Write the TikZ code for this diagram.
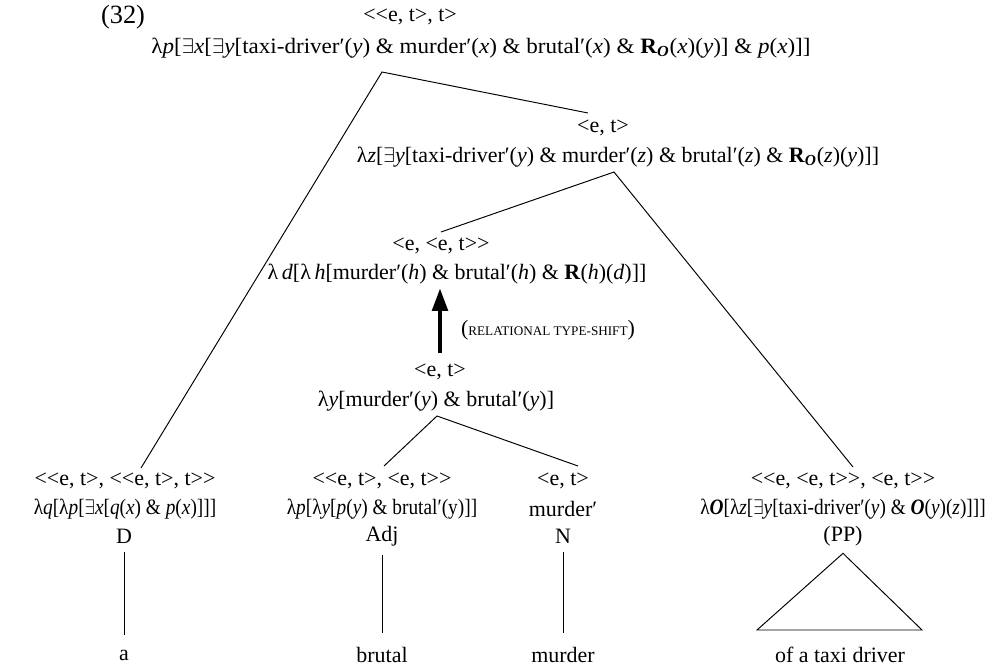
\documentclass[tikz,border=0pt]{standalone}
\usepackage{fontspec}
\usepackage{graphicx}
\setmainfont{Liberation Serif}[Ligatures=TeXOff]
\usetikzlibrary{arrows.meta}

\newcommand{\ex}{$\exists$}
\newcommand{\vi}[1]{\textit{#1}}
\newcommand{\bO}{\textbf{\textit{O}}}
\newcommand{\RO}{\textbf{R}\textsubscript{\bO}}
\newcommand{\narrow}[1]{\scalebox{0.88}[1]{#1}}

\begin{document}
\begin{tikzpicture}[
    x=0.02cm, y=-0.02cm,
    font=\fontsize{12.5}{15}\selectfont,
    lbl/.style={inner sep=0pt, anchor=center},
    branch/.style={draw=black, line width=0.55pt},
    typeshift/.style={-{Triangle[length=13pt, width=8.5pt]}, line width=2.8pt}
]
    \useasboundingbox (0,0) rectangle (1000,666);

    % example number and root
    \node[lbl, font=\fontsize{15}{18}\selectfont] (num) at (123,17) {(32)};
    \node[lbl] (toptype) at (410,17) {<<e, t>, t>};
    \node[lbl] (topform) at (481,48) {\scalebox{1.05}[1]{λ\vi{p}[\ex\vi{x}[\ex\vi{y}[taxi-driver′(\vi{y}) \& murder′(\vi{x}) \& brutal′(\vi{x}) \& \RO(\vi{x})(\vi{y})] \& \vi{p}(\vi{x})]]}};

    % second level
    \node[lbl] (ettype) at (603,128) {<e, t>};
    \node[lbl] (etform) at (618,157) {λ\vi{z}[\ex\vi{y}[taxi-driver′(\vi{y}) \& murder′(\vi{z}) \& brutal′(\vi{z}) \& \RO(\vi{z})(\vi{y})]]};

    % relational level
    \node[lbl] (reltype) at (441,246) {<e, <e, t>>};
    \node[lbl] (relform) at (457,274) {λ\,\vi{d}[λ\,\vi{h}[murder′(\vi{h}) \& brutal′(\vi{h}) \& \textbf{R}(\vi{h})(\vi{d})]]};
    \node[lbl] (shiftlbl) at (548,330) {({\fontsize{7.5}{9}\selectfont RELATIONAL TYPE-SHIFT})};

    % adjective + noun
    \node[lbl] (nptype) at (440,372) {<e, t>};
    \node[lbl] (npform) at (436,401) {λ\vi{y}[murder′(\vi{y}) \& brutal′(\vi{y})]};

    % leaves
    \node[lbl] (dtype) at (125,481) {<<e, t>, <<e, t>, t>>};
    \node[lbl] (dform) at (125,509) {\narrow{λ\vi{q}[λ\vi{p}[\ex\vi{x}[\vi{q}(\vi{x}) \& \vi{p}(\vi{x})]]]}};
    \node[lbl] (dcat) at (124,536) {D};
    \node[lbl] (dword) at (124,655) {a};

    \node[lbl] (adjtype) at (382,481) {<<e, t>, <e, t>>};
    \node[lbl] (adjform) at (382,509) {\narrow{λ\vi{p}[λ\vi{y}[\vi{p}(\vi{y}) \& brutal′(y)]]}};
    \node[lbl] (adjcat) at (382,536) {Adj};
    \node[lbl] (adjword) at (382,655) {brutal};

    \node[lbl] (ntype) at (563,481) {<e, t>};
    \node[lbl] (nform) at (563,509) {murder′};
    \node[lbl] (ncat) at (563,536) {N};
    \node[lbl] (nword) at (563,655) {murder};

    \node[lbl] (pptype) at (843,481) {<<e, <e, t>>, <e, t>>};
    \node[lbl] (ppform) at (843,509) {\narrow{λ\bO[λ\vi{z}[\ex\vi{y}[taxi-driver′(\vi{y}) \& \bO(\vi{y})(\vi{z})]]]}};
    \node[lbl] (ppcat) at (843,536) {(PP)};
    \node[lbl] (ppword) at (840,655) {of a taxi driver};

    % branch points
    \coordinate (toproot) at (382,72);
    \coordinate (etroot) at (614,172);
    \coordinate (nproot) at (437,416);
    \coordinate (dtop) at (141,468);
    \coordinate (ettop) at (588,113);
    \coordinate (reltop) at (441,232);
    \coordinate (pptop) at (853,467);
    \coordinate (adjtop) at (384,466);
    \coordinate (ntop) at (578,466);

    \draw[branch] (dtop) -- (toproot) -- (ettop);
    \draw[branch] (reltop) -- (etroot) -- (pptop);
    \draw[branch] (adjtop) -- (nproot) -- (ntop);

    \draw[typeshift] ([yshift=6pt]nptype.north) -- ([yshift=-2pt]nptype.north |- relform.south);

    \draw[branch] ([yshift=-5pt]dcat.south) -- ([yshift=8pt]dword.north);
    \draw[branch] ([yshift=-5pt]adjcat.south) -- ([yshift=8pt]adjword.north);
    \draw[branch] ([yshift=-5pt]ncat.south) -- ([yshift=8pt]nword.north);
    \draw[branch] ([yshift=-4pt]ppcat.south) -- (757,630) -- (922,630) -- cycle;
\end{tikzpicture}
\end{document}
